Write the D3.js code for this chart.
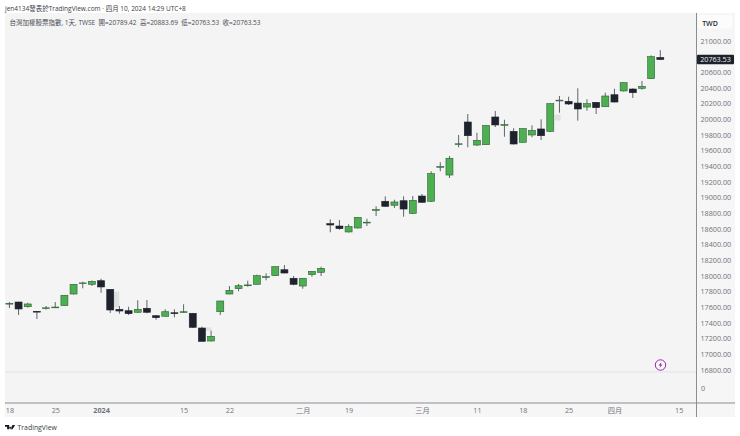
<!DOCTYPE html>
<html><head><meta charset="utf-8">
<script src="https://cdn.jsdelivr.net/npm/d3@7"></script>
<style>html,body{margin:0;padding:0;background:#fff}svg{display:block}text{font-family:"Open Sans","Noto Sans CJK TC",sans-serif}</style>
</head><body><svg id="c" width="740" height="436"></svg>
<script>
const opens=[17649,17668,17608,17549,17586,17599,17621,17770,17907,17894,17940,17830,17575,17557,17537,17588,17493,17486,17531,17540,17524,17336,17170,17544,17770,17838,17882,17894,17989,18004,18080,17971,17872,18017,18047,18668,18638,18562,18613,18683,18843,18954,18903,18961,18800,19021,18954,19393,19289,19683,19966,19672,19676,20030,19930,19847,19707,19800,19877,19847,20240,20230,20208,20157,20217,20161,20314,20362,20387,20396,20519,20789.42];
const highs=[17668,17670,17659,17553,17617,17668,17757,17898,17927,17943,17966,17834,17617,17608,17690,17694,17502,17575,17575,17639,17528,17353,17302,17683,17872,17898,17940,18017,18034,18121,18140,18000,17974,18064,18119,18724,18715,18660,18753,18731,18890,19017,18974,19017,19021,19047,19337,19452,19532,19800,20068,19829,19928,20106,19995,19886,19884,19924,20000,20202,20298,20289,20396,20256,20221,20340,20391,20470,20396,20489,20817,20883.69];
const lows=[17591,17502,17595,17451,17570,17591,17617,17764,17843,17872,17787,17528,17519,17502,17528,17524,17442,17483,17473,17531,17336,17164,17164,17502,17766,17805,17863,17892,17945,18000,18034,17881,17838,17991,18000,18558,18591,18555,18606,18638,18766,18881,18868,18757,18791,18932,18945,19337,19251,19643,19643,19660,19672,19902,19778,19678,19703,19771,19736,19838,20085,20183,19983,20110,20068,20157,20215,20355,20272,20378,20515,20763.53];
const closes=[17651,17579,17643,17540,17594,17604,17754,17894,17912,17932,17860,17566,17553,17519,17575,17537,17468,17544,17519,17544,17345,17166,17230,17681,17817,17876,17886,18004,17992,18119,18038,17894,17971,18060,18098,18651,18604,18634,18749,18687,18849,18890,18945,18855,18966,18941,19306,19398,19503,19688,19791,19732,19921,19928,19934,19685,19881,19860,19791,20200,20245,20196,20132,20200,20149,20298,20221,20468,20340,20422,20800,20763.53];
const ghostIndex=[11.65,21.7,59.8];
const ghostTop=[17800,17345,20060];
const ghostBottom=[17600,17300,19985];
const priceTicks=[16800,17000,17200,17400,17600,17800,18000,18200,18400,18600,18800,19000,19200,19400,19600,19800,20000,20200,20400,20600,21000];
const timeTickIndex=[0,5,10,19,24,32,37,45,51,56,61,66,73];
const timeTickLabels=["18","25","2024","15","22","二月","19","三月","11","18","25","四月","15"];
const lastPrice=20763.53;
const titleText="jen4134發表於TradingView.com · 四月 10, 2024 14:29 UTC+8";
const legendText="台灣加權股票指數, 1天, TWSE  開=20789.42  高=20883.69  低=20763.53  收=20763.53";

const svg=d3.select("#c");
const x=d3.scaleLinear().domain([0,71]).range([9.4,660.3]);
const y=d3.scaleLinear().domain([16800,21000]).range([370,41]);
const T="#6f727b",UP="#4caf50",UPB="#2f5f38",DN="#1e222d",WICK="#60646c";
const px=696.5,pb=403;

svg.append("rect").attr("x",5).attr("y",13).attr("width",730).attr("height",404).attr("fill","#f4f4f4");
svg.append("rect").attr("x",px).attr("y",13).attr("width",38.5).attr("height",404).attr("fill","#f6f6f6");
svg.append("rect").attr("x",5).attr("y",pb).attr("width",730).attr("height",14).attr("fill","#f6f6f6");
svg.append("text").attr("x",5).attr("y",10.7).attr("font-size",6.5).attr("fill","#3a3d45").text(titleText);
svg.append("text").attr("x",9.5).attr("y",24.7).attr("font-size",6.5).attr("fill","#4a4d55").attr("xml:space","preserve").style("white-space","pre").text(legendText);

// faint separator low in the pane
svg.append("line").attr("x1",5).attr("x2",px).attr("y1",372).attr("y2",372).attr("stroke","#e2e2e2").attr("stroke-width",1);

// ghost candles
svg.append("g").selectAll("rect").data(ghostIndex).join("rect")
  .attr("x",d=>x(d)-3).attr("width",6)
  .attr("y",(d,i)=>y(ghostTop[i])).attr("height",(d,i)=>y(ghostBottom[i])-y(ghostTop[i]))
  .attr("fill","#dfe0e0");

// candles
const g=svg.append("g").selectAll("g").data(opens).join("g");
g.append("line").attr("x1",(d,i)=>x(i)).attr("x2",(d,i)=>x(i))
  .attr("y1",(d,i)=>y(highs[i])).attr("y2",(d,i)=>y(lows[i]))
  .attr("stroke",WICK).attr("stroke-width",1);
g.append("rect")
  .attr("x",(d,i)=>x(i)-3.5).attr("width",7)
  .attr("y",(d,i)=>y(Math.max(opens[i],closes[i])))
  .attr("height",(d,i)=>Math.max(0.8,Math.abs(y(opens[i])-y(closes[i]))))
  .attr("fill",(d,i)=>closes[i]>opens[i]?UP:DN)
  .attr("stroke",(d,i)=>closes[i]>opens[i]?UPB:DN).attr("stroke-width",0.6);

// axes
svg.append("line").attr("x1",5).attr("x2",735).attr("y1",pb).attr("y2",pb).attr("stroke","#8b8d92").attr("stroke-width",1);
svg.append("line").attr("x1",px).attr("x2",px).attr("y1",13).attr("y2",417).attr("stroke","#8b8d92").attr("stroke-width",1);

const yAxis=d3.axisRight(y).tickValues(priceTicks).tickFormat(d3.format(".2f")).tickSize(0).tickPadding(4);
const ya=svg.append("g").attr("transform",`translate(${px},0)`).call(yAxis);
ya.select(".domain").remove();
ya.selectAll("text").attr("fill",T).attr("font-size",7.2).attr("font-family",'"Open Sans",sans-serif');
svg.append("text").attr("x",px+4.5).attr("y",390.5).attr("font-size",7.2).attr("fill",T).text("0");

const xa=svg.append("g").attr("transform",`translate(0,${pb})`)
  .call(d3.axisBottom(d3.scaleLinear().domain([0,71]).range(x.range())).tickValues(timeTickIndex).tickFormat((d,i)=>timeTickLabels[i]).tickSize(0).tickPadding(5));
xa.select(".domain").remove();
xa.selectAll("text").attr("fill",T).attr("font-size",7.2).attr("font-family",'"Open Sans","Noto Sans CJK TC",sans-serif')
  .attr("font-weight",(d,i)=>timeTickLabels[i]==="2024"?700:400);

// currency box and last price tag
svg.append("rect").attr("x",698).attr("y",15).attr("width",34).attr("height",13.5).attr("rx",2).attr("fill","#fcfcfc");
svg.append("text").attr("x",710).attr("y",25.6).attr("text-anchor","middle").attr("font-size",7).attr("font-weight",600).attr("fill","#2a2e39").text("TWD");
svg.append("rect").attr("x",697).attr("y",y(lastPrice)-4.8).attr("width",37).attr("height",9.6).attr("rx",1).attr("fill",DN);
svg.append("text").attr("x",715.5).attr("y",y(lastPrice)+2.6).attr("text-anchor","middle").attr("font-size",7.2).attr("fill","#f2f2f2").text(d3.format(".2f")(lastPrice));

// flash icon
const f=svg.append("g").attr("transform","translate(660.5,365)");
f.append("circle").attr("r",5.2).attr("fill","#fafafa").attr("stroke","#9c27b0").attr("stroke-width",1);
f.append("path").attr("d","M1,-3L-2,0.6H-0.2L-1,3L2,-0.6H0.2Z").attr("fill","#9c27b0");

// footer
svg.append("path").attr("transform","translate(5,425) scale(0.42)")
  .attr("d","M0 0H10V10H5V4H0ZM13 4a2.6 2.6 0 1 0 .01 0ZM18 0H24L18 10H12Z").attr("fill","#131722");
svg.append("text").attr("x",17.5).attr("y",429.7).attr("font-size",6.9).attr("fill","#3a3d45").text("TradingView");
</script></body></html>
